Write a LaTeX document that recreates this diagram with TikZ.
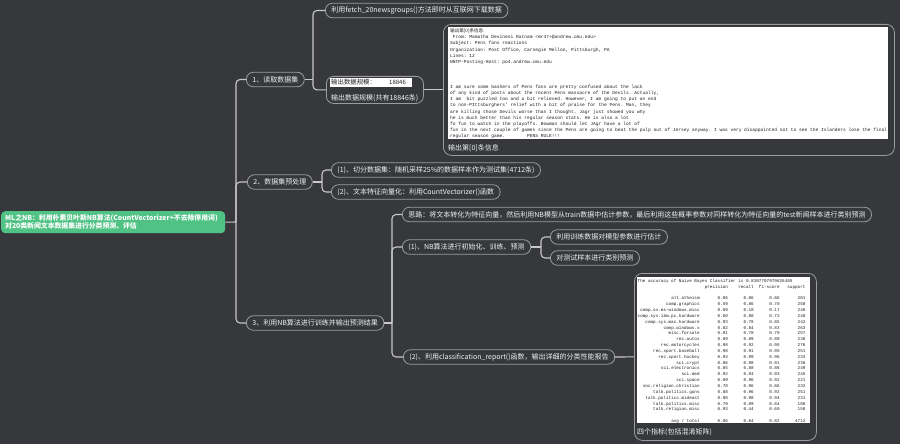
\documentclass[tikz,border=0pt]{standalone}
\usepackage{fontspec}
\setmainfont{Noto Sans CJK SC}
\setmonofont{Liberation Mono}
\newfontfamily\cjkf{Noto Sans CJK SC}
\definecolor{bg}{HTML}{36383C}
\definecolor{lineC}{HTML}{C8C8C8}
\definecolor{borderC}{HTML}{9A9CA0}
\definecolor{txtC}{HTML}{F2F2F2}
\definecolor{rootC}{HTML}{4FC284}
\definecolor{inkC}{HTML}{202020}
\tikzset{
  conn/.style={draw=lineC, line width=1.1pt, rounded corners=4pt},
  topic/.style={draw=borderC, line width=0.8pt, rounded corners=7pt, fill=bg, text=txtC,
    font=\fontsize{7}{8}\selectfont, inner xsep=6pt, inner ysep=0pt, minimum height=14.5pt, anchor=west},
  framebox/.style={draw=borderC, line width=0.8pt, rounded corners=8pt, fill=bg},
  paper/.style={fill=white, draw=none},
  caption/.style={text=txtC, font=\fontsize{7}{8}\selectfont, inner sep=0pt, anchor=west},
  mono/.style={anchor=north west, inner sep=0pt, text=inkC},
}
\begin{document}
\begin{tikzpicture}[x=1pt,y=-1pt]
\useasboundingbox (0,0) rectangle (900,444);
\fill[bg] (0,0) rectangle (900,444);

% root
\node[fill=rootC, rounded corners=4pt, minimum width=224pt, minimum height=22pt, inner sep=0pt, anchor=north west] (root) at (1,211) {};
\node[anchor=west, inner sep=0pt, text=white, font=\bfseries\fontsize{6.85}{8}\selectfont, align=left] (roottxt) at (5,222)
  {ML之NB：利用朴素贝叶斯NB算法(CountVectorizer+不去除停用词)\\对20类新闻文本数据集进行分类预测、评估};

% level 1
\node[topic] (n1) at (246,79.5) {1、读取数据集};
\node[topic] (n2) at (247,182) {2、数据集预处理};
\node[topic] (n3) at (246,323) {3、利用NB算法进行训练并输出预测结果};

% branch 1 children
\node[topic] (c11) at (325,10.5) {利用fetch\_20newsgroups()方法即时从互联网下载数据};
\node[draw=borderC, line width=0.8pt, rounded corners=7pt, fill=bg, minimum width=97pt, minimum height=27pt, inner sep=0pt, anchor=north west] (c12) at (326,76) {};
\node[fill=white, inner sep=0pt, minimum width=82pt, minimum height=9pt, anchor=north west] (c12img) at (330,78) {};
\node[anchor=west, inner sep=0pt, text=inkC, font=\fontsize{6.4}{7}\selectfont] (c12a) at (331,82.5) {输出数据规模：};
\node[anchor=west, inner sep=0pt, text=inkC, font=\fontsize{6}{7}\selectfont] (c12b) at (389,82.5) {18846};
\node[caption] (c12cap) at (331,98) {输出数据规模(共有18846条)};

% email box
\node[framebox, minimum width=451pt, minimum height=131pt, inner sep=0pt, anchor=north west] (email) at (443,24) {};
\fill[paper] (448,27) rectangle (888,139);
\node[mono, font=\ttfamily\fontsize{4.58}{6.2}\selectfont] (emailtxt) at (450,27.9) {\begin{tabular}{@{}l@{}}
{\cjkf 输出第[0]条信息:}\\
~From: Mamatha Devineni Ratnam <mr47+@andrew.cmu.edu>\\
Subject: Pens fans reactions\\
Organization: Post Office, Carnegie Mellon, Pittsburgh, PA\\
Lines: 12\\
NNTP-Posting-Host: po4.andrew.cmu.edu\\
\\
\\
\\
I am sure some bashers of Pens fans are pretty confused about the lack\\
of any kind of posts about the recent Pens massacre of the Devils. Actually,\\
I am~ bit puzzled too and a bit relieved. However, I am going to put an end\\
to non-PIttsburghers' relief with a bit of praise for the Pens. Man, they\\
are killing those Devils worse than I thought. Jagr just showed you why\\
he is much better than his regular season stats. He is also a lot\\
fo fun to watch in the playoffs. Bowman should let JAgr have a lot of\\
fun in the next couple of games since the Pens are going to beat the pulp out of Jersey anyway. I was very disappointed not to see the Islanders lose the final\\
regular season game.~~~~~~~~PENS RULE!!!
\end{tabular}};
\node[caption] (emailcap) at (448,148) {输出第[0]条信息};

% branch 2 children
\node[topic] (c21) at (331,170) {(1)、切分数据集：随机采样25\%的数据样本作为测试集(4712条)};
\node[topic] (c22) at (331,192) {(2)、文本特征向量化：利用CountVectorizer()函数};

% branch 3 children
\node[topic] (c31) at (402,214.5) {思路：将文本转化为特征向量，然后利用NB模型从train数据中估计参数，最后利用这些概率参数对同样转化为特征向量的test新闻样本进行类别预测};
\node[topic] (c32) at (402,247) {(1)、NB算法进行初始化、训练、预测};
\node[topic] (c321) at (550,237) {利用训练数据对模型参数进行估计};
\node[topic] (c322) at (550,258) {对测试样本进行类别预测};
\node[topic] (c33) at (403,357) {(2)、利用classification\_report()函数，输出详细的分类性能报告};

% report box
\node[framebox, minimum width=182pt, minimum height=167pt, inner sep=0pt, anchor=north west] (report) at (634,273) {};
\fill[paper] (637,277) rectangle (810,423);
\node[mono, font=\ttfamily\fontsize{4.3}{5.84}\selectfont] (reporttxt) at (637.5,278.1) {\begin{tabular}{@{}r@{~~}r@{~}r@{~}r@{~}r@{}}
\multicolumn{5}{@{}l@{}}{The accuracy of Naive Bayes Classifier is 0.8397707979626485}\\
 & precision & ~~~recall & ~f1-score & ~~support\\
 &&&&\\
alt.atheism & 0.86 & 0.86 & 0.86 & 201\\
comp.graphics & 0.59 & 0.86 & 0.70 & 250\\
comp.os.ms-windows.misc & 0.89 & 0.10 & 0.17 & 248\\
comp.sys.ibm.pc.hardware & 0.60 & 0.88 & 0.72 & 240\\
comp.sys.mac.hardware & 0.93 & 0.78 & 0.85 & 242\\
comp.windows.x & 0.82 & 0.84 & 0.83 & 263\\
misc.forsale & 0.91 & 0.70 & 0.79 & 257\\
rec.autos & 0.89 & 0.89 & 0.89 & 238\\
rec.motorcycles & 0.98 & 0.92 & 0.95 & 276\\
rec.sport.baseball & 0.98 & 0.91 & 0.95 & 251\\
rec.sport.hockey & 0.93 & 0.99 & 0.96 & 233\\
sci.crypt & 0.86 & 0.98 & 0.91 & 238\\
sci.electronics & 0.85 & 0.88 & 0.86 & 249\\
sci.med & 0.92 & 0.94 & 0.93 & 245\\
sci.space & 0.89 & 0.96 & 0.92 & 221\\
soc.religion.christian & 0.78 & 0.96 & 0.86 & 232\\
talk.politics.guns & 0.88 & 0.96 & 0.92 & 251\\
talk.politics.mideast & 0.90 & 0.98 & 0.94 & 231\\
talk.politics.misc & 0.79 & 0.89 & 0.84 & 188\\
talk.religion.misc & 0.93 & 0.44 & 0.60 & 158\\
 &&&&\\
avg / total & 0.86 & 0.84 & 0.82 & 4712
\end{tabular}};
\node[caption] (reportcap) at (637,432) {四个指标(包括混淆矩阵)};

% connectors
\coordinate (t0) at (236,222);
\coordinate (b1) at (313,79.5);
\coordinate (b2) at (322,182);
\coordinate (b3) at (392,323);
\coordinate (b4) at (541,247);
\draw[conn] (root.east) -- (t0);
\draw[conn] (t0) |- (n1.west);
\draw[conn] (t0) |- (n2.west);
\draw[conn] (t0) |- (n3.west);
\draw[conn] (n1.east) -- (b1);
\draw[conn] (b1) |- (c11.west);
\draw[conn] (b1) |- (c12.west);
\draw[conn] (c12.east) -- (email.west);
\draw[conn] (n2.east) -- (b2);
\draw[conn] (b2) |- (c21.west);
\draw[conn] (b2) |- (c22.west);
\draw[conn] (n3.east) -- (b3);
\draw[conn] (b3) |- (c31.west);
\draw[conn] (b3) |- (c32.west);
\draw[conn] (b3) |- (c33.west);
\draw[conn] (c32.east) -- (b4);
\draw[conn] (b4) |- (c321.west);
\draw[conn] (b4) |- (c322.west);
\draw[conn] (c33.east) -- (report.west);
\end{tikzpicture}
\end{document}
